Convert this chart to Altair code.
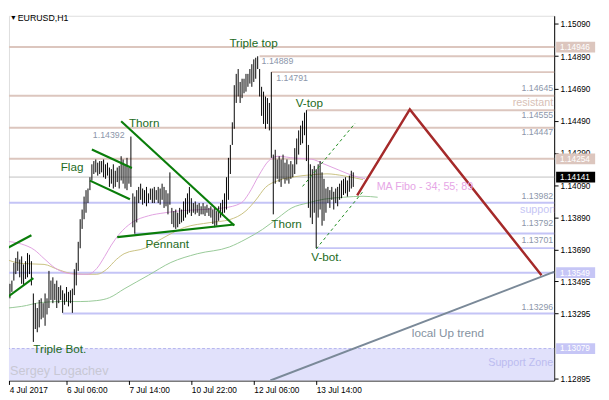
import altair as alt
import pandas as pd

# ---------------- H1 bars (high / low) ----------------
bar_high = [1.1351, 1.1349, 1.1352, 1.1348, 1.1350, 1.1361, 1.1364, 1.1368, 1.1363, 1.1365,
            1.1360, 1.1362, 1.1367, 1.1366, 1.1362, 1.1342, 1.1336, 1.1333, 1.1338, 1.1339,
            1.1336, 1.1342, 1.1339, 1.1356, 1.1350, 1.1352, 1.1348, 1.1350, 1.1346, 1.1347,
            1.1344, 1.1342, 1.1346, 1.1343, 1.1344, 1.1345, 1.1357, 1.1361, 1.1374, 1.1388,
            1.1394, 1.1402, 1.1406, 1.1407, 1.1414, 1.1422, 1.1424, 1.1425, 1.1423, 1.1424,
            1.1424, 1.1425, 1.1422, 1.1423, 1.1420, 1.1419, 1.1422, 1.1418, 1.1420, 1.1421,
            1.1427, 1.1425, 1.1422, 1.1426, 1.1420, 1.14392, 1.1404, 1.1402, 1.1406, 1.1408,
            1.1410, 1.1407, 1.1406, 1.1408, 1.1404, 1.1407, 1.1407, 1.1408, 1.1406, 1.1408,
            1.1407, 1.1410, 1.1408, 1.1406, 1.1404, 1.1417, 1.1395, 1.1393, 1.1394, 1.1392,
            1.1395, 1.1394, 1.1399, 1.1401, 1.1404, 1.1408, 1.1401, 1.1398, 1.1399, 1.1397,
            1.1398, 1.1396, 1.1398, 1.1396, 1.1397, 1.1395, 1.1396, 1.1394, 1.1395, 1.1393,
            1.1396, 1.1398, 1.1400, 1.1404, 1.1414, 1.1426, 1.1434, 1.1448, 1.1471, 1.1478,
            1.1481, 1.1473, 1.1475, 1.1475, 1.1478, 1.1478, 1.1481, 1.1484, 1.1487, 1.1488,
            1.14889, 1.1481, 1.1470, 1.1467, 1.1464, 1.1463, 1.1460, 1.14791, 1.1428, 1.1431,
            1.1425, 1.1427, 1.1425, 1.1428, 1.1423, 1.1425, 1.1422, 1.1424, 1.1422, 1.1432,
            1.1438, 1.1443, 1.1446, 1.1449, 1.1454, 1.14555, 1.1434, 1.1422, 1.1419, 1.1421,
            1.1419, 1.1422, 1.1424, 1.1417, 1.1413, 1.1407, 1.1408, 1.1406, 1.1408, 1.1405,
            1.1407, 1.1408, 1.1410, 1.1412, 1.1413, 1.1414, 1.1412, 1.1415, 1.1418, 1.1417]
bar_low = [1.1343, 1.1341, 1.1342, 1.1339, 1.1343, 1.1350, 1.1354, 1.1356, 1.1352, 1.1348,
           1.1347, 1.1351, 1.1352, 1.1354, 1.1347, 1.1312, 1.1320, 1.1318, 1.1321, 1.1326,
           1.1327, 1.1322, 1.1329, 1.1333, 1.1338, 1.1336, 1.1338, 1.1333, 1.1336, 1.1338,
           1.1330, 1.1335, 1.1337, 1.1334, 1.1336, 1.1330, 1.1341, 1.1347, 1.1356, 1.1370,
           1.1382, 1.1388, 1.1392, 1.1398, 1.1406, 1.1412, 1.1416, 1.1417, 1.1415, 1.1416,
           1.1417, 1.1414, 1.1413, 1.1415, 1.1408, 1.1410, 1.1407, 1.1408, 1.1411, 1.1407,
           1.1412, 1.1410, 1.1407, 1.1406, 1.1410, 1.1408, 1.1383, 1.1379, 1.1386, 1.1398,
           1.1400, 1.1397, 1.1398, 1.1396, 1.1398, 1.1400, 1.1398, 1.1398, 1.1400, 1.1398,
           1.1397, 1.1400, 1.1395, 1.1396, 1.1391, 1.1397, 1.1385, 1.1383, 1.1382, 1.1383,
           1.1385, 1.1386, 1.1387, 1.1389, 1.1391, 1.1392, 1.1390, 1.1392, 1.1391, 1.1392,
           1.1390, 1.1391, 1.1391, 1.1390, 1.1392, 1.1390, 1.1389, 1.1385, 1.1383, 1.1384,
           1.1387, 1.1389, 1.1390, 1.1392, 1.1394, 1.1400, 1.1416, 1.1434, 1.1444, 1.1460,
           1.1464, 1.1460, 1.1463, 1.1466, 1.1467, 1.1470, 1.1472, 1.1470, 1.1473, 1.1475,
           1.1481, 1.1464, 1.1452, 1.1447, 1.1444, 1.1447, 1.1443, 1.1426, 1.1391, 1.1410,
           1.1413, 1.1411, 1.1408, 1.1413, 1.1410, 1.1412, 1.1410, 1.1413, 1.1414, 1.1416,
           1.1422, 1.1428, 1.1434, 1.1435, 1.1440, 1.1424, 1.1395, 1.1389, 1.1385, 1.1392,
           1.13701, 1.1389, 1.1394, 1.1384, 1.1387, 1.1392, 1.1398, 1.1395, 1.1400, 1.1394,
           1.1398, 1.1396, 1.1400, 1.1401, 1.1403, 1.1404, 1.1402, 1.1405, 1.1407, 1.1408]
bar_index = list(range(len(bar_high)))

# ---------------- moving averages (34 / 55 / 89) ----------------
ma34_x = [0, 9, 15.5, 20.5, 26.5, 32.5, 38, 43, 47.5, 51.5, 55, 59, 65.5, 74, 82.5, 90.5, 99,
          112.5, 121.5, 125.5, 130.5, 135.5, 140.5, 149, 157.5, 164, 171.5, 179, 185]
ma34_p = [1.13744, 1.13726, 1.13690, 1.13636, 1.13575, 1.13545, 1.13539, 1.13539, 1.13575,
          1.13648, 1.13720, 1.13787, 1.13859, 1.13901, 1.13920, 1.13932, 1.13938, 1.13950,
          1.13980, 1.14040, 1.14149, 1.14240, 1.14270, 1.14258, 1.14252, 1.14222, 1.14185,
          1.14149, 1.14131]
ma55_x = [0, 9, 20.5, 27.5, 34, 40.5, 47.5, 52.5, 57.5, 61.5, 72.5, 80.5, 92.5, 105.5, 115.5,
          124, 129, 134, 140.5, 149, 157.5, 165.5, 174, 184]
ma55_p = [1.13636, 1.13606, 1.13600, 1.13569, 1.13545, 1.13539, 1.13539, 1.13569, 1.13630,
          1.13666, 1.13702, 1.13757, 1.13829, 1.13859, 1.13877, 1.13932, 1.13998, 1.14077,
          1.14119, 1.14143, 1.14155, 1.14161, 1.14149, 1.14125]
ma89_x = [0, 9, 19, 29, 39, 47.5, 54, 61.5, 74, 85.5, 99, 115.5, 124, 132.5, 140.5, 147.5,
          155.5, 164, 174, 184, 191.5]
ma89_p = [1.13328, 1.13340, 1.13364, 1.13370, 1.13370, 1.13376, 1.13394, 1.13448, 1.13533,
          1.13612, 1.13666, 1.13708, 1.13757, 1.13817, 1.13889, 1.13950, 1.13980, 1.14004,
          1.14016, 1.14022, 1.14016]

# ---------------- horizontal levels ----------------
res_levels = [1.14946, 1.14889, 1.14791, 1.14645, 1.14555, 1.14447, 1.14254]
res_start = [-1, 131, 137, -1, 155, -1, -1]
sup_levels = [1.13982, 1.13792, 1.13701, 1.13549, 1.13296]
sup_start = [-1, 67, 160, -1, 30]
bid_level = [1.14141]
zone_top = 1.13079
zone_bottom = 1.12800

# ---------------- drawn patterns ----------------
green_id = [0, 0, 1, 1, 2, 2, 3, 3, 4, 4, 5, 5]
green_x = [-1, 14, 0, 15, 45, 65.5, 44, 64.5, 60, 118, 58, 118]
green_p = [1.13684, 1.13781, 1.13382, 1.13515, 1.14312, 1.14197, 1.14119, 1.14004,
           1.14487, 1.13841, 1.13769, 1.13847]
chan_id = [0, 0, 1, 1]
chan_x = [153, 180, 160, 184]
chan_p = [1.14083, 1.14475, 1.13696, 1.14052]
fore_x = [181, 208, 275.5]
fore_p = [1.14028, 1.14560, 1.13533]
trend_x = [136.5, 282.25]
trend_p = [1.12881, 1.13555]

# ---------------- texts ----------------
pat_text = ["Triple top", "V-top", "Thorn", "Flag", "Pennant", "Thorn", "V-bot.", "Triple Bot."]
pat_x = [115.5, 149.5, 64, 29, 72.5, 137, 157.5, 15]
pat_p = [1.14971, 1.14596, 1.14475, 1.14203, 1.13726, 1.13847, 1.13648, 1.13074]

pl_left_text = ["1.14889", "1.14791", "1.14392"]
pl_left_x = [132, 139.5, 45.5]
pl_left_p = [1.14862, 1.14753, 1.14403]
pl_right_text = ["1.14645", "1.14555", "1.14447", "1.13982", "1.13792", "1.13701", "1.13296"]
pl_right_p = [1.14693, 1.14524, 1.14421, 1.14022, 1.13859, 1.13750, 1.13334]

axis_box_p = [1.14946, 1.14254, 1.14141, 1.13549, 1.13079]
axis_box_color = ["#dcc6be", "#dcc6be", "#000000", "#c6c6f6", "#c6c6f6"]

y_ticks = [1.15090, 1.14890, 1.14690, 1.14490, 1.14290, 1.14090, 1.13890, 1.13690,
           1.13495, 1.13295, 1.12895]
x_ticks = [2.6, 32, 64, 96, 128, 160]
x_tick_labels = ["4 Jul 2017", "6 Jul 06:00", "7 Jul 14:00", "10 Jul 22:00",
                 "12 Jul 06:00", "13 Jul 14:00"]

FONT = "Liberation Sans"
xs = alt.Scale(domain=[2.5, 282.0], nice=False, zero=False)
ys = alt.Scale(domain=[1.12881, 1.15140], nice=False, zero=False)
label_expr = "".join(f"datum.value == {v} ? '{l}' : " for v, l in zip(x_ticks, x_tick_labels)) + "''"
xaxis = alt.Axis(values=x_ticks, labelExpr=label_expr, labelAlign="left", labelPadding=1,
                 tickSize=4, grid=False, title=None, labelFlush=False, labelOverlap=False,
                 labelFontSize=8.5, labelColor="black", tickColor="black", domainColor="black",
                 labelFont=FONT)
yaxis = alt.Axis(orient="right", values=y_ticks, format=".5f", tickSize=4, grid=False, title=None,
                 labelPadding=2, labelFontSize=8.5, labelColor="black", tickColor="black",
                 domainColor="black", labelOverlap=False, labelFlush=False, labelFont=FONT)


def X(f="x"):
    return alt.X(f"{f}:Q", scale=xs, axis=xaxis)


def Y(f="p"):
    return alt.Y(f"{f}:Q", scale=ys, axis=yaxis)


layers = []

# support zone
zone_df = pd.DataFrame({"x": [-1], "x2": [300], "p": [zone_top], "p2": [zone_bottom]})
layers.append(alt.Chart(zone_df).mark_rect(color="#e1e1fb", clip=True).encode(
    x=X(), x2="x2", y=Y(), y2="p2"))
layers.append(alt.Chart(zone_df).mark_rule(color="#b4b4ee", strokeWidth=1, strokeDash=[3, 2], clip=True).encode(
    x=X(), x2="x2", y=Y()))

# levels
res_df = pd.DataFrame({"x": res_start, "x2": [300] * len(res_levels), "p": res_levels})
layers.append(alt.Chart(res_df).mark_rule(color="#dcc6be", strokeWidth=2, clip=True).encode(
    x=X(), x2="x2", y=Y()))
sup_df = pd.DataFrame({"x": sup_start, "x2": [300] * len(sup_levels), "p": sup_levels})
layers.append(alt.Chart(sup_df).mark_rule(color="#c4c4f6", strokeWidth=2, clip=True).encode(
    x=X(), x2="x2", y=Y()))
bid_df = pd.DataFrame({"x": [-1], "x2": [300], "p": bid_level})
layers.append(alt.Chart(bid_df).mark_rule(color="#c0c0c0", strokeWidth=1, clip=True).encode(
    x=X(), x2="x2", y=Y()))

# moving averages
for mx, mp, col in [(ma89_x, ma89_p, "#96c896"), (ma55_x, ma55_p, "#c8c080"), (ma34_x, ma34_p, "#e0a0e0")]:
    layers.append(alt.Chart(pd.DataFrame({"x": mx, "p": mp})).mark_line(
        color=col, strokeWidth=1, clip=True, interpolate="monotone").encode(x=X(), y=Y()))

# bars
bars_df = pd.DataFrame({"x": bar_index, "p": bar_high, "p2": bar_low})
layers.append(alt.Chart(bars_df).mark_rule(color="black", strokeWidth=1, clip=True).encode(
    x=X(), y=Y(), y2="p2"))

# pattern lines
layers.append(alt.Chart(pd.DataFrame({"id": green_id, "x": green_x, "p": green_p})).mark_line(
    color="#0a7d0a", strokeWidth=2.2, clip=True).encode(x=X(), y=Y(), detail="id:N"))
layers.append(alt.Chart(pd.DataFrame({"id": chan_id, "x": chan_x, "p": chan_p})).mark_line(
    color="#1a8a1a", strokeWidth=1, strokeDash=[3, 3], clip=True).encode(x=X(), y=Y(), detail="id:N"))
layers.append(alt.Chart(pd.DataFrame({"x": fore_x, "p": fore_p})).mark_line(
    color="#a52a2a", strokeWidth=2.5, clip=True).encode(x=X(), y=Y()))
layers.append(alt.Chart(pd.DataFrame({"x": trend_x, "p": trend_p})).mark_line(
    color="#7a8998", strokeWidth=2, clip=True).encode(x=X(), y=Y()))


# texts
def text_layer(texts, xv, pv, color, size, align="left", clip=False):
    df = pd.DataFrame({"t": texts, "x": xv, "p": pv})
    return alt.Chart(df).mark_text(align=align, baseline="middle", fontSize=size, color=color,
                                   font=FONT, clip=clip).encode(x=X(), y=Y(), text="t:N")


layers.append(text_layer(pat_text, pat_x, pat_p, "#236b23", 12))
layers.append(text_layer(pl_left_text, pl_left_x, pl_left_p, "#8c96aa", 9))
layers.append(text_layer(pl_right_text, [281.5] * len(pl_right_text), pl_right_p, "#8c96aa", 9, "right"))
layers.append(text_layer(["MA Fibo - 34; 55; 89"], [191], [1.14077], "#e6a6e6", 11))
layers.append(text_layer(["resistant"], [281.5], [1.14602], "#d8bfb6", 11, "right"))
layers.append(text_layer(["support"], [264.5], [1.13938], "#c6c6f4", 11, "left", True))
layers.append(text_layer(["local Up trend"], [209], [1.13177], "#8592a0", 12))
layers.append(text_layer(["Support Zone"], [281.5], [1.12989], "#bcbcf0", 11, "right"))
layers.append(text_layer(["Sergey Logachev"], [3], [1.12941], "#c8c8d4", 13))
layers.append(text_layer(["EURUSD,H1"], [7], [1.15128], "#000000", 9))
layers.append(text_layer(["▼"], [3], [1.15128], "#000000", 7))

# price boxes on the right axis
box_df = pd.DataFrame({"p": axis_box_p, "c": axis_box_color,
                       "t": [f"{v:.5f}" for v in axis_box_p]})
layers.append(alt.Chart(box_df).mark_rule(strokeWidth=11, strokeCap="butt").encode(
    x=alt.value(561), x2=alt.value(601), y=Y(), color=alt.Color("c:N", scale=None)))
layers.append(alt.Chart(box_df).mark_text(align="left", baseline="middle", fontSize=8.5,
                                          color="white", font=FONT).encode(
    x=alt.value(565), y=Y(), text="t:N"))

chart = alt.layer(*layers).properties(width=559, height=374, padding=0).configure_view(
    stroke="black", strokeWidth=1).configure(font=FONT)

chart.save("out.html", embed_options={"renderer": "svg", "actions": False})
